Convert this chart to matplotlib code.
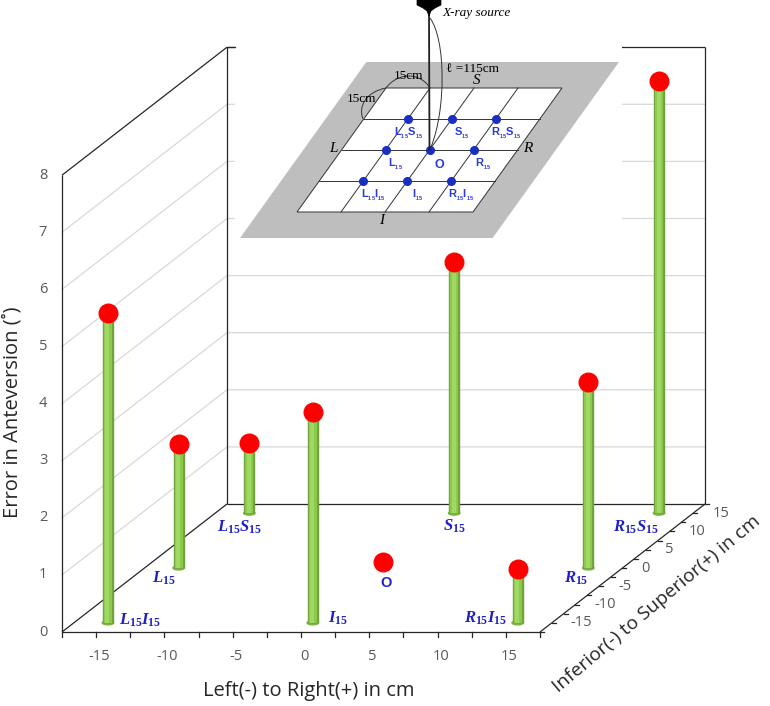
import numpy as np
import matplotlib
matplotlib.use("Agg")
import matplotlib.pyplot as plt
from matplotlib.patches import Polygon, Rectangle, PathPatch, Ellipse
from matplotlib.path import Path
from matplotlib.transforms import Affine2D

plt.rcParams['mathtext.fontset'] = 'custom'
plt.rcParams['mathtext.it'] = 'Liberation Serif:italic:bold'
plt.rcParams['mathtext.rm'] = 'Liberation Serif:bold'
plt.rcParams['mathtext.bf'] = 'Liberation Sans:bold'

# data: 9 target positions on the plate (cm) and the error in anteversion (deg)
point_names = ['L15I15', 'L15', 'L15S15', 'I15', 'O', 'S15', 'R15I15', 'R15', 'R15S15']
point_labels = [r'$L_{15}I_{15}$', r'$L_{15}$', r'$L_{15}S_{15}$', r'$I_{15}$', 'O',
                r'$S_{15}$', r'$R_{15}I_{15}$', r'$R_{15}$', r'$R_{15}S_{15}$']
left_right = [-15, -15, -15, 0, 0, 0, 15, 15, 15]
inf_sup = [-15, 0, 15, -15, 0, 15, -15, 0, 15]
error_deg = [5.42, 2.18, 1.22, 3.70, 0.10, 4.39, 0.94, 3.25, 7.56]

x_ticks = [-15, -10, -5, 0, 5, 10, 15]
y_ticks = [-15, -10, -5, 0, 5, 10, 15]
z_ticks = [0, 1, 2, 3, 4, 5, 6, 7, 8]
lim = 17.5
zmax = 8

# oblique projection of the 3d box onto the page (pixels)
X0, Y0 = 62.0, 632.0
EX = np.array([13.657, 0.0])
EY = np.array([4.714, -3.657])
EZ = np.array([0.0, -57.1])


def proj(x, y, z):
    x = np.asarray(x, float) + lim
    y = np.asarray(y, float) + lim
    z = np.asarray(z, float)
    return (X0 + x * EX[0] + y * EY[0] + z * EZ[0],
            Y0 + x * EX[1] + y * EY[1] + z * EZ[1])


fig = plt.figure(figsize=(7.70, 7.06), dpi=100)
ax = fig.add_axes([0, 0, 1, 1])
ax.set_xlim(0, 770)
ax.set_ylim(706, 0)
ax.axis('off')

grid_c = '#d9d9d9'
frame_c = '#262626'
tick_c = '#595959'

# gridlines on the left wall and back wall
for z in z_ticks[1:-1]:
    px, py = proj([-lim, -lim, lim], [-lim, lim, lim], [z, z, z])
    ax.plot(px, py, color=grid_c, lw=0.9, zorder=1)


# box frame
def edge(p, q):
    px, py = proj([p[0], q[0]], [p[1], q[1]], [p[2], q[2]])
    ax.plot(px, py, color=frame_c, lw=0.9, zorder=2, solid_capstyle='butt')


edge((-lim, -lim, 0), (lim, -lim, 0))
edge((-lim, -lim, 0), (-lim, lim, 0))
edge((lim, -lim, 0), (lim, lim, 0))
edge((-lim, lim, 0), (lim, lim, 0))
edge((-lim, -lim, 0), (-lim, -lim, zmax))
edge((-lim, -lim, zmax), (-lim, lim, zmax))
edge((-lim, lim, 0), (-lim, lim, zmax))
edge((lim, lim, 0), (lim, lim, zmax))
edge((-lim, lim, zmax), (lim, lim, zmax))

# z tick labels
for z in z_ticks:
    px, py = proj(-lim, -lim, z)
    ax.text(px - 19, py, str(z), ha='center', va='center', fontsize=10.5,
            color=tick_c, family='Open Sans')

# x ticks
for t in np.arange(-lim, lim + 0.1, 2.5):
    px, py = proj(t, -lim, 0)
    ax.plot([px, px], [py, py + 5], color=frame_c, lw=0.9, zorder=2)
for t in x_ticks:
    px, py = proj(t, -lim, 0)
    ax.text(px + 3, py + 25, str(t), ha='center', va='center', fontsize=10.5,
            color=tick_c, family='Open Sans')

# y (depth) ticks
for t in np.arange(-lim, lim + 0.1, 2.5):
    px, py = proj(lim, t, 0)
    ax.plot([px, px + 4], [py, py], color=frame_c, lw=0.9, zorder=2)
for t in y_ticks:
    px, py = proj(lim, t, 0)
    ax.text(px + 19, py, str(t), ha='left', va='center', fontsize=10.5,
            color=tick_c, family='Open Sans')

# axis titles
ax.text(309, 691, 'Left(-) to Right(+) in cm', ha='center', va='center',
        fontsize=14.5, color='#262626', family='Open Sans')
ax.text(13, 412, 'Error in Anteversion (˚)', ha='center', va='center', rotation=90,
        fontsize=14.5, color='#262626', family='Open Sans')
ax.text(657, 604, 'Inferior(-) to Superior(+) in cm', ha='center', va='center',
        rotation=40, rotation_mode='anchor', fontsize=13.8, color='#262626',
        family='Open Sans')

# stems with balls, back to front
label_off = {'L15I15': (11, -3, 'left'), 'L15': (-3, 10, 'right'),
             'L15S15': (-10, 14, 'center'), 'I15': (15, -5, 'left'),
             'O': (3, 21, 'center'), 'S15': (0, 13, 'center'),
             'R15I15': (-11, -5, 'right'), 'R15': (0, 10, 'right'),
             'R15S15': (0, 14, 'right')}
order = np.argsort(inf_sup)[::-1]
for i in order:
    x, y, z = left_right[i], inf_sup[i], error_deg[i]
    bx, by = proj(x, y, 0)
    tx, ty = proj(x, y, z)
    if z > 0.3:
        ax.plot([bx, tx], [by, ty], color='#6e9f3a', lw=8.2, solid_capstyle='butt', zorder=4)
        ax.plot([bx, tx], [by, ty], color='#8cc94a', lw=6.0, solid_capstyle='butt', zorder=4)
        ax.plot([bx - 0.5, tx - 0.5], [by, ty], color='#9fd862', lw=3.0, solid_capstyle='butt', zorder=4)
        ax.add_patch(Ellipse((bx, by), 11.4, 4, color='#7fb545', zorder=3.9))
    ax.plot(tx, ty, 'o', ms=13.4, color='#ff0000', mec='#ff0000', zorder=5)
    dx, dy, ha = label_off[point_names[i]]
    if point_names[i] == 'O':
        ax.text(tx + dx, ty + dy, point_labels[i], ha=ha, va='center', fontsize=10.5,
                fontweight='bold', color='#2020c8', family='Liberation Sans', zorder=6)
    else:
        ax.text(bx + dx, by + dy, point_labels[i], ha=ha, va='center', fontsize=12,
                color='#2020c8', zorder=6)

# ---------------- inset: setup sketch ----------------
ax.add_patch(Rectangle((235, 0), 387, 246, facecolor='white', edgecolor='none', zorder=7))
edge_top = proj([-lim, -lim], [lim, lim], [zmax, zmax])
ax.plot([edge_top[0][0], 235], [edge_top[1][0], edge_top[1][0]], color=frame_c, lw=0.9, zorder=8)

# plate grid coordinates -> page
grid_tr = Affine2D().from_values(44.0, 0.0, 22.25, -31.0, 297.0, 212.0) + ax.transData
ax.add_patch(Polygon([(-0.87, -0.84), (4.87, -0.84), (4.87, 4.84), (-0.87, 4.84)],
                     closed=True, facecolor='#bebebe', edgecolor='none',
                     transform=grid_tr, zorder=8))
ax.add_patch(Polygon([(0, 0), (4, 0), (4, 4), (0, 4)], closed=True,
                     facecolor='white', edgecolor='#333333', lw=0.7,
                     transform=grid_tr, zorder=8))
for k in range(1, 4):
    ax.plot([k, k], [0, 4], color='#333333', lw=0.7, transform=grid_tr, zorder=9)
    ax.plot([0, 4], [k, k], color='#333333', lw=0.7, transform=grid_tr, zorder=9)

inset_lab = {'L15I15': r'$\mathbf{L_{{}_{15}}I_{{}_{15}}}$', 'L15': r'$\mathbf{L_{{}_{15}}}$',
             'L15S15': r'$\mathbf{L_{{}_{15}}S_{{}_{15}}}$', 'I15': r'$\mathbf{I_{{}_{15}}}$',
             'O': r'$\mathbf{O}$', 'S15': r'$\mathbf{S_{{}_{15}}}$',
             'R15I15': r'$\mathbf{R_{{}_{15}}I_{{}_{15}}}$', 'R15': r'$\mathbf{R_{{}_{15}}}$',
             'R15S15': r'$\mathbf{R_{{}_{15}}S_{{}_{15}}}$'}
gu = [x / 15 + 2 for x in left_right]
gv = [y / 15 + 2 for y in inf_sup]
ax.plot(gu, gv, 'o', ms=5.5, color='#1a2fc0', transform=grid_tr, zorder=10)
for u, v, n in zip(gu, gv, point_names):
    shift = Affine2D().translate(10 if n != 'L15S15' else 1, -14)
    ax.text(u, v, inset_lab[n], transform=grid_tr + shift, ha='center', va='center',
            fontsize=9 if n == 'O' else 8, color='#2a3ad8', zorder=11)

# x-ray source and beam
ax.add_patch(Polygon([(417, 0), (441, 0), (441, 5), (435, 8), (431, 11), (429, 16),
                      (427, 11), (423, 8), (417, 5)],
                     closed=True, facecolor='black', edgecolor='black', lw=0.5, zorder=11))
ox, oy = ax.transData.inverted().transform(grid_tr.transform((2, 2)))
ax.plot([429, ox], [14, oy], color='#222222', lw=1.3, zorder=10)
ax.add_patch(PathPatch(Path([(430, 18), (446, 40), (446, 110), (431, 147)],
                            [Path.MOVETO, Path.CURVE4, Path.CURVE4, Path.CURVE4]),
                       facecolor='none', edgecolor='#333333', lw=0.7, zorder=10))
ax.add_patch(PathPatch(Path([(386, 88), (398, 72), (420, 72), (430, 88)],
                            [Path.MOVETO, Path.CURVE4, Path.CURVE4, Path.CURVE4]),
                       facecolor='none', edgecolor='#333333', lw=0.7, zorder=10))
ax.add_patch(PathPatch(Path([(386, 88), (366, 92), (358, 106), (363, 119)],
                            [Path.MOVETO, Path.CURVE4, Path.CURVE4, Path.CURVE4]),
                       facecolor='none', edgecolor='#333333', lw=0.7, zorder=10))

serif = ['Liberation Serif', 'DejaVu Serif']
ax.text(442, 13, 'X-ray source', style='italic', fontsize=9.5, family=serif,
        ha='left', va='center', zorder=11)
ax.text(446, 69, 'ℓ =115cm', fontsize=9.5, family=serif,
        ha='left', va='center', zorder=11)
ax.text(409, 76, '15cm', fontsize=9.5, family=serif, ha='center', va='center', zorder=11)
ax.text(362, 99, '15cm', fontsize=9.5, family=serif, ha='center', va='center', zorder=11)
ax.text(477, 81, 'S', style='italic', fontsize=11, family=serif, ha='center', va='center', zorder=11)
ax.text(528, 149, 'R', style='italic', fontsize=11, family=serif, ha='center', va='center', zorder=11)
ax.text(333, 148, 'L', style='italic', fontsize=11, family=serif, ha='center', va='center', zorder=11)
ax.text(382, 221, 'I', style='italic', fontsize=11, family=serif, ha='center', va='center', zorder=11)

fig.savefig('out.png', dpi=100)
